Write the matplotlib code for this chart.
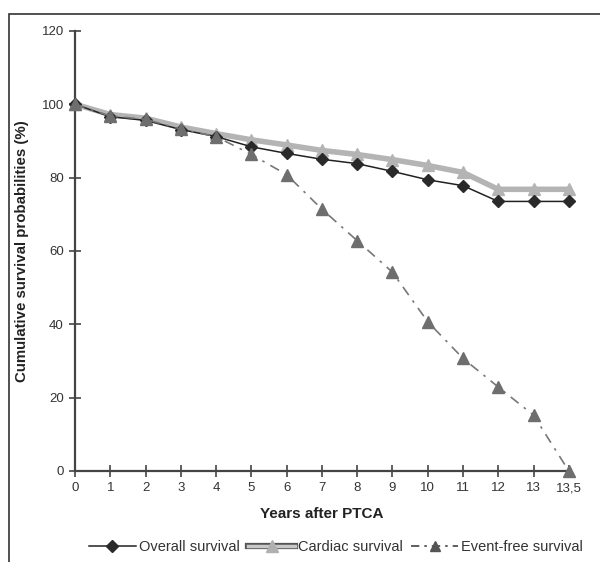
import matplotlib
matplotlib.use('Agg')
import matplotlib.pyplot as plt
from matplotlib.lines import Line2D
from matplotlib.patches import Rectangle
import numpy as np

plt.rcParams['font.family'] = ['Liberation Sans', 'DejaVu Sans']

# years after PTCA (categorical axis positions)
years = ['0', '1', '2', '3', '4', '5', '6', '7', '8', '9', '10', '11', '12', '13', '13,5']
overall = [100, 96.6, 95.6, 93.1, 91.2, 88.4, 86.6, 85.0, 83.8, 81.7, 79.4, 77.8, 73.5, 73.5, 73.5]
cardiac = [100, 97.2, 96.2, 93.8, 92.0, 90.3, 88.9, 87.4, 86.3, 84.9, 83.3, 81.4, 76.8, 76.8, 76.8]
event_free = [100, 96.8, 95.9, 93.2, 91.2, 86.3, 80.8, 71.4, 62.8, 54.2, 40.7, 30.7, 22.9, 15.2, 0]

yticks = [0, 20, 40, 60, 80, 100, 120]

x = np.arange(len(years))

fig = plt.figure(figsize=(6, 5.62), dpi=100)
ax = fig.add_axes([0.125, 0.162, 0.823, 0.783])

# outer frame, cut by the right and bottom image edges
fig.patches.append(Rectangle((9 / 600, -0.1), 1.2, 1 - 14 / 562 + 0.1,
                             transform=fig.transFigure, fill=False,
                             edgecolor='#333333', linewidth=1.2))

ax.plot(x, overall, color='#222222', linewidth=1.1, marker='D', markersize=6,
        markerfacecolor='#2a2a2a', markeredgecolor='#2a2a2a', zorder=3,
        clip_on=False)
ax.plot(x, cardiac, color='#b4b4b4', linewidth=4, marker='^', markersize=9,
        markerfacecolor='#b4b4b4', markeredgecolor='#b4b4b4', zorder=2,
        clip_on=False)
ax.plot(x, event_free, color='#777777', linewidth=1.2, linestyle=(0, (6, 4, 1.5, 4)),
        marker='^', markersize=9, markerfacecolor='#6e6e6e',
        markeredgecolor='#6e6e6e', zorder=4, clip_on=False)

ax.set_xlim(0, len(years) - 1)
ax.set_ylim(0, 120)
ax.set_xticks(x)
ax.set_xticklabels(years)
ax.set_yticks(yticks)

for side in ['top', 'right']:
    ax.spines[side].set_visible(False)
for side in ['left', 'bottom']:
    ax.spines[side].set_linewidth(1.6)
    ax.spines[side].set_color('#444444')
ax.tick_params(direction='inout', length=8, width=1.2, color='#444444',
               labelsize=9.5, labelcolor='#333333', pad=4)

ax.set_xlabel('Years after PTCA', fontsize=11, fontweight='bold',
              color='#222222', labelpad=9)
ax.set_ylabel('Cumulative survival probabilities (%)', fontsize=10.8,
              fontweight='bold', color='#222222', va='center')
ax.yaxis.set_label_coords(-0.107, 0.5)

# legend handles
h_overall = Line2D([], [], color='#222222', linewidth=1.1, marker='D',
                   markersize=6, markerfacecolor='#2a2a2a', markeredgecolor='#2a2a2a')
h_card_edge = Line2D([], [], color='#555555', linewidth=4.5)
h_card_fill = Line2D([], [], color='#c8c8c8', linewidth=2.5, marker='^', markersize=8,
                     markerfacecolor='#b0b0b0', markeredgecolor='#b0b0b0')
h_event = Line2D([], [], color='#444444', linewidth=1.2, linestyle=(0, (5, 3, 1.5, 3)),
                 marker='^', markersize=7, markerfacecolor='#555555',
                 markeredgecolor='#555555')
fig.legend([h_overall, (h_card_edge, h_card_fill), h_event],
           ['Overall survival', 'Cardiac survival', 'Event-free survival'],
           loc='center', bbox_to_anchor=(0.56, 0.027), ncol=3, frameon=False,
           fontsize=10.5, handlelength=3.2, handletextpad=0.2, columnspacing=0.6,
           labelcolor='#333333')

fig.savefig('out.png', dpi=100)
